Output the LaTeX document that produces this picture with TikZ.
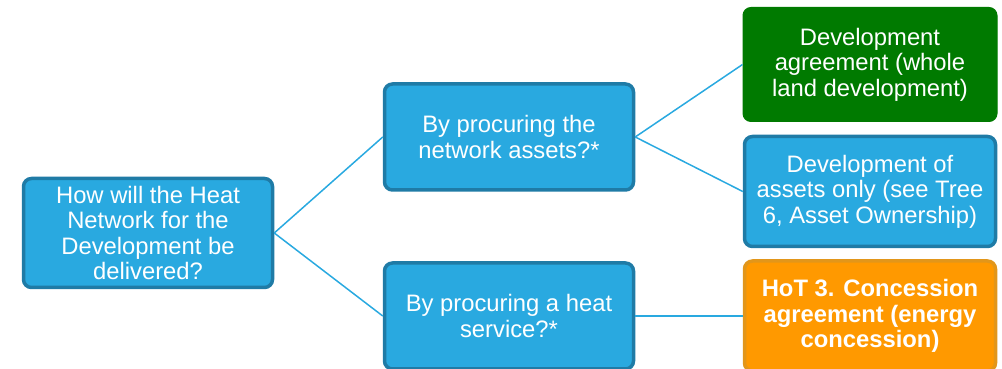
\documentclass[tikz,border=0pt]{standalone}
\usepackage{fontspec}
\setmainfont{Liberation Sans}
\usetikzlibrary{positioning}
\definecolor{boxblue}{RGB}{41,169,224}
\definecolor{boxedge}{RGB}{31,123,166}
\definecolor{boxgreen}{RGB}{0,122,0}
\definecolor{boxorange}{RGB}{255,153,0}
\definecolor{orangeedge}{RGB}{226,150,26}

\begin{document}
\begin{tikzpicture}[
    x=1pt, y=1pt,
    qbox/.style={draw=boxedge, line width=3.5pt, fill=boxblue, rounded corners=8pt, text=white, align=center, font=\fontsize{23.8}{25.5}\selectfont, inner sep=2pt},
    gbox/.style={qbox, draw=boxgreen, line width=1pt, fill=boxgreen},
    obox/.style={qbox, draw=orangeedge, fill=boxorange, font=\fontsize{23.8}{25.5}\selectfont\bfseries},
    link/.style={draw=boxblue, line width=1.5pt}
]
    \useasboundingbox (0,0) rectangle (1002,369);
    % Questions
    \node[qbox, minimum width=249pt, minimum height=109pt] (root) at (148,136) {How will the Heat\\Network for the\\Development be\\delivered?};
    \node[qbox, minimum width=249pt, minimum height=106pt] (procure) at (509,232) {By procuring the\\network assets?*};
    \node[qbox, minimum width=249pt, minimum height=106pt] (service) at (509,53) {By procuring a heat\\service?*};

    % Outcomes
    \node[gbox, minimum width=254pt, minimum height=114pt] (devagree) at (870,304.5) {Development\\agreement (whole\\land development)};
    \node[qbox, minimum width=251pt, minimum height=110pt] (devassets) at (870,177.5) {Development of\\assets only (see Tree\\6, Asset Ownership)};
    \node[obox, minimum width=251pt, minimum height=110pt] (concession) at (870,53) {HoT 3. Concession\\agreement (energy\\concession)};

    % Links
    \draw[link] (root.east) -- (procure.west);
    \draw[link] (root.east) -- (service.west);
    \draw[link] (procure.east) -- (devagree.west);
    \draw[link] (procure.east) -- (devassets.west);
    \draw[link] (service.east) -- (concession.west);
\end{tikzpicture}
\end{document}
